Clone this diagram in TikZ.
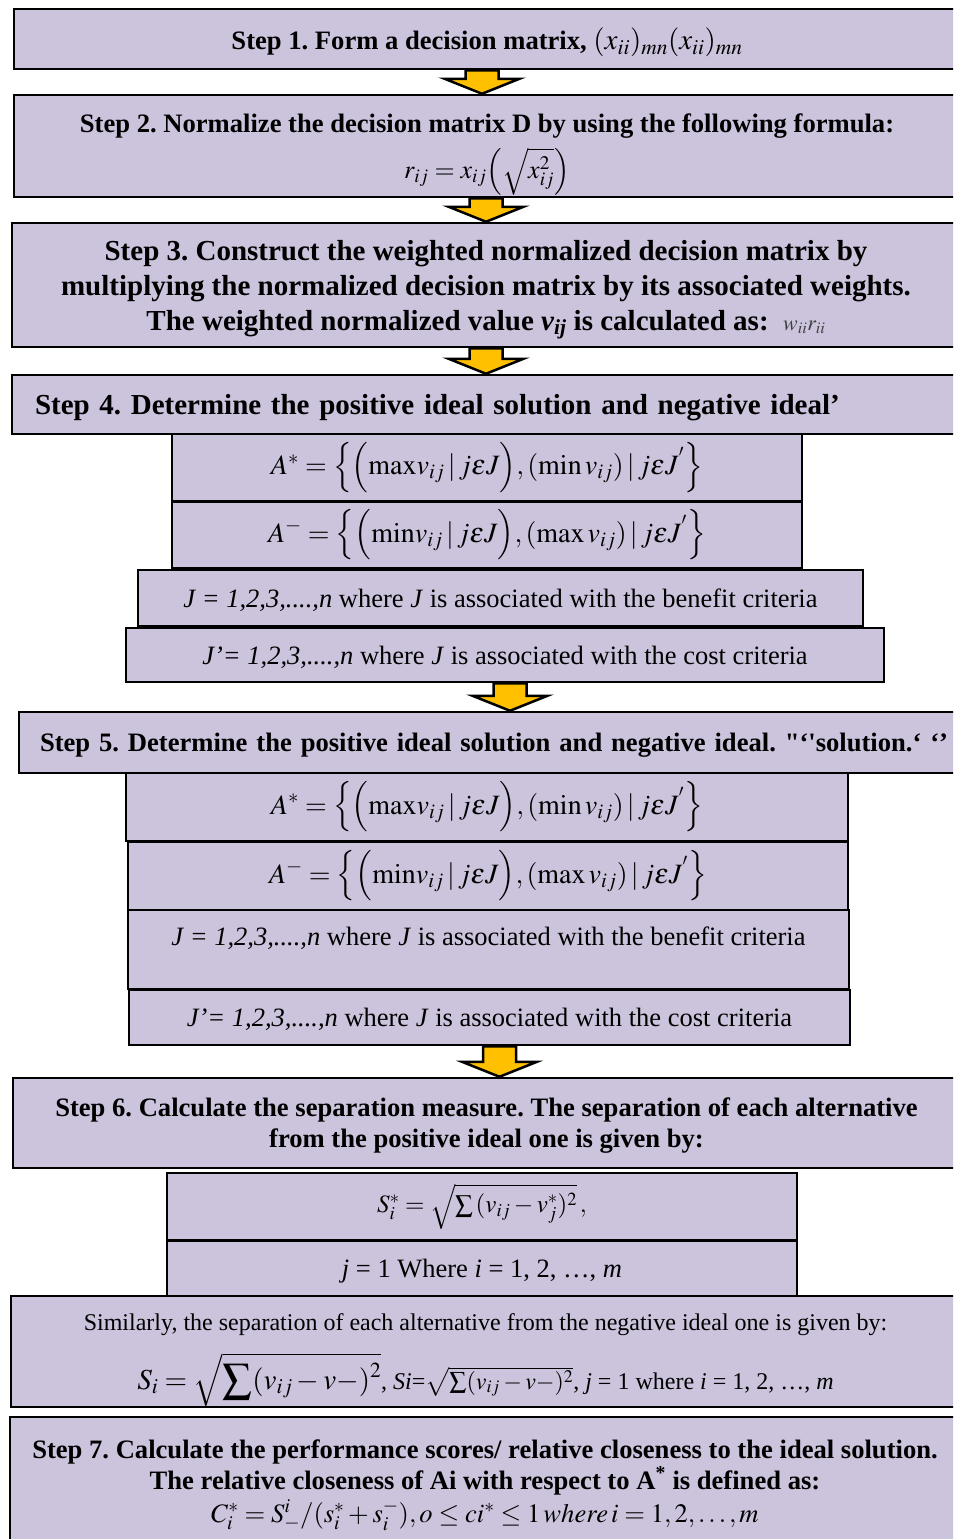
\documentclass[tikz,border=0pt]{standalone}
\usepackage{amsmath}
\usepackage{mathptmx}
\usepackage{fontspec}
\setmainfont{Liberation Serif}
\usetikzlibrary{calc}
\definecolor{boxfill}{RGB}{204,195,220}
\definecolor{arrowfill}{RGB}{255,192,0}
\frenchspacing

\begin{document}
\begin{tikzpicture}[
    x=1pt, y=-1pt,
    box/.style={draw=black, line width=2.5pt, fill=boxfill, inner sep=0pt, align=center},
    hd/.style={box, text depth=0pt, font=\fontsize{26.6}{31}\selectfont\bfseries},
    hdbig/.style={box, text depth=0pt, font=\fontsize{29}{35}\selectfont\bfseries},
    frm/.style={box, font=\fontsize{28}{34}\selectfont},
    txt/.style={box, text depth=0pt, font=\fontsize{26.5}{31}\selectfont},
    fat/.style={draw=black, line width=2.5pt, fill=arrowfill,
      to path={let \p1=(\tikztostart), \p2=(\tikztotarget) in
        (\x1-16.5pt,\y1) -- (\x1+16.5pt,\y1) -- (\x1+16.5pt,\y2+15pt) -- (\x1+37.5pt,\y2+15pt)
        -- (\x1,\y2) -- (\x1-37.5pt,\y2+15pt) -- (\x1-16.5pt,\y2+15pt) -- cycle}}
]
\useasboundingbox (0,0) rectangle (953,1539);
\clip (0,0) rectangle (953,1539);

% steps 1 to 3
\node[hd, minimum width=946pt, minimum height=60pt] (step1) at (487,39)
  {Step 1. Form a decision matrix, {\mdseries\fontsize{29}{31}\selectfont $(x_{ii})_{mn}(x_{ii})_{mn}$}};
\node[hd, minimum width=946pt, minimum height=102pt] (step2) at (487,146)
  {Step 2. Normalize the decision matrix D by using the following formula:\\[8pt]
   {\mdseries\fontsize{26}{29}\selectfont $r_{ij} = x_{ij}\Bigl(\sqrt{x_{ij}^{2}}\Bigr)$}};
\node[hdbig, minimum width=948pt, minimum height=124pt] (step3) at (486,285)
  {Step 3. Construct the weighted normalized decision matrix by\\
   multiplying the normalized decision matrix by its associated weights.\\
   The weighted normalized value \textit{v\textsubscript{ij}} is calculated as:~
   {\mdseries\color{black!75}\fontsize{22}{24}\selectfont $w_{ii}r_{ii}$}};

% step 4
\node[hdbig, minimum width=948pt, minimum height=59pt, inner xsep=23pt, text width=902pt, align=left] (step4) at (486,404.5)
  {Step 4. Determine the positive ideal solution and negative ideal’};
\node[frm, minimum width=630pt, minimum height=67pt] (apos4) at (487,467.5)
  {$A^{*} = \Bigl\{\Bigl(\mathrm{max}v_{ij}\,|\,j\varepsilon J\Bigr),(\min v_{ij})\,|\,j\varepsilon J^{'}\Bigr\}$};
\node[frm, minimum width=630pt, minimum height=66pt] (aneg4) at (487,535)
  {$A^{-} = \Bigl\{\Bigl(\mathrm{min}v_{ij}\,|\,j\varepsilon J\Bigr),(\max v_{ij})\,|\,j\varepsilon J^{'}\Bigr\}$};
\node[txt, minimum width=725pt, minimum height=56pt] (jben4) at (500.5,598)
  {\textit{J = 1,2,3,....,n} where \textit{J} is associated with the benefit criteria};
\node[txt, minimum width=758pt, minimum height=54pt] (jcost4) at (505,655)
  {\textit{J’= 1,2,3,....,n} where \textit{J} is associated with the cost criteria};

% step 5
\node[hd, minimum width=982pt, minimum height=61pt, inner xsep=21pt, text width=940pt, align=left] (step5) at (510,742.5)
  {Step 5. Determine the positive ideal solution and negative ideal. \textquotedbl‘\textquotesingle solution.‘ ‘’};
\node[frm, minimum width=722pt, minimum height=68pt] (apos5) at (487,807)
  {$A^{*} = \Bigl\{\Bigl(\mathrm{max}v_{ij}\,|\,j\varepsilon J\Bigr),(\min v_{ij})\,|\,j\varepsilon J^{'}\Bigr\}$};
\node[frm, minimum width=720pt, minimum height=68pt] (aneg5) at (488,876)
  {$A^{-} = \Bigl\{\Bigl(\mathrm{min}v_{ij}\,|\,j\varepsilon J\Bigr),(\max v_{ij})\,|\,j\varepsilon J^{'}\Bigr\}$};
\node[txt, minimum width=721pt, minimum height=79pt, text height=19pt, text depth=27pt] (jben5) at (488.5,949.5)
  {\textit{J = 1,2,3,....,n} where \textit{J} is associated with the benefit criteria};
\node[txt, minimum width=721pt, minimum height=55pt] (jcost5) at (489.5,1017.5)
  {\textit{J’= 1,2,3,....,n} where \textit{J} is associated with the cost criteria};

% step 6
\node[hd, minimum width=947pt, minimum height=90pt] (step6) at (486.5,1123)
  {Step 6. Calculate the separation measure. The separation of each alternative\\
   from the positive ideal one is given by:};
\node[box, minimum width=630pt, minimum height=67pt, font=\fontsize{25}{28}\selectfont] (spos6) at (482,1206.5)
  {$S_i^{*} = \sqrt{\sum\,(v_{ij}-v_j^{*})^{2}}\,,$};
\node[txt, minimum width=630pt, minimum height=55pt] (jidx6) at (482,1268.5)
  {\textit{j} = 1 Where \textit{i} = 1, 2, …, \textit{m}};
\node[box, minimum width=949pt, minimum height=111pt, text depth=0pt, font=\fontsize{24}{30}\selectfont] (sneg6) at (485.5,1351.5)
  {Similarly, the separation of each alternative from the negative ideal one is given by:\\[16pt]
   {\fontsize{29}{36}\selectfont $S_i = \sqrt{\displaystyle\sum(v_{ij}-v-)^{2}}$}, \textit{Si}=$\sqrt{\sum(v_{ij}-v-)^{2}}$, \textit{j} = 1 where \textit{i} = 1, 2, …, \textit{m}};

% step 7
\node[hd, minimum width=950pt, minimum height=128pt] (step7) at (485,1481)
  {Step 7. Calculate the performance scores/ relative closeness to the ideal solution.\\
   The relative closeness of Ai with respect to A\textsuperscript{*} is defined as:\\[2pt]
   {\mdseries $C_i^{*} = S_{-}^{i}/(s_i^{*}+s_i^{-}), o \le ci^{*} \le 1\,where\,i = 1,2,\ldots,m$}};

% arrows
\draw[fat] ([xshift=-5pt]step1.south) to ([xshift=-5pt]step2.north);
\draw[fat] ([xshift=-1pt]step2.south) to ([xshift=-1pt]step3.north);
\draw[fat] (step3.south) to (step4.north);
\draw[fat] ([xshift=5pt]jcost4.south) to ([xshift=5pt]jcost4.south |- step5.north);
\draw[fat] ([xshift=10pt]jcost5.south) to ([xshift=10pt]jcost5.south |- step6.north);
\end{tikzpicture}
\end{document}
